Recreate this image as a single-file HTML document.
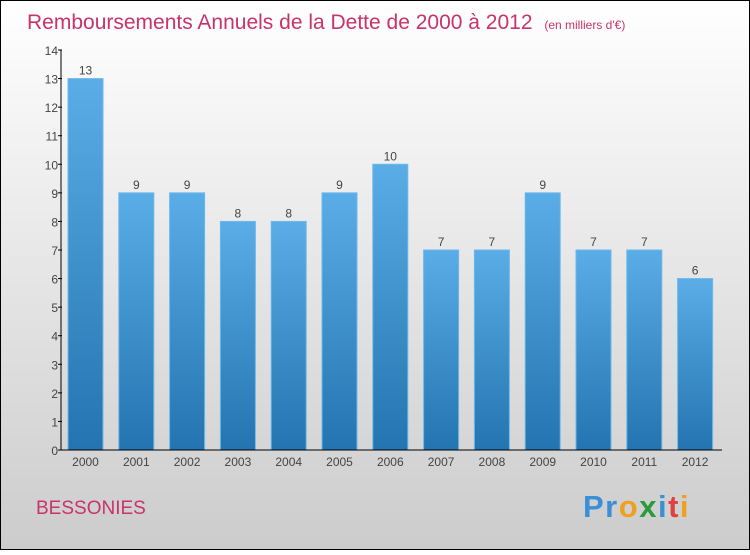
<!DOCTYPE html>
<html><head><meta charset="utf-8"><style>
body{margin:0;width:750px;height:550px;overflow:hidden;font-family:"Liberation Sans",sans-serif}
</style></head><body>
<svg id="c" width="750" height="550" xmlns="http://www.w3.org/2000/svg">
<defs>
<linearGradient id="bg" x1="0" y1="0" x2="0" y2="1"><stop offset="0" stop-color="#ffffff"/><stop offset="1" stop-color="#cccccc"/></linearGradient>
<linearGradient id="bar" x1="0" y1="0" x2="0" y2="1"><stop offset="0" stop-color="#5aade6"/><stop offset="1" stop-color="#2374b0"/></linearGradient>
</defs>
<rect x="0.5" y="0.5" width="749" height="549" fill="url(#bg)" stroke="#000"/>
<text x="27" y="29" font-size="21" fill="#c8336a">Remboursements Annuels de la Dette de 2000 à 2012 <tspan font-size="12" dx="6">(en milliers d'€)</tspan></text>
<text x="36" y="514" font-size="19" fill="#c8336a">BESSONIES</text>
<text x="583" y="517" font-size="31" font-weight="bold" letter-spacing="1.5"><tspan fill="#3a8fd6">Pr</tspan><tspan fill="#f0a020">o</tspan><tspan fill="#2a9a3a">x</tspan><tspan fill="#3a8fd6">i</tspan><tspan fill="#e04040">t</tspan><tspan fill="#f0a020">i</tspan></text>
<g id="plot"></g>
</svg>
<script>
const years=["2000","2001","2002","2003","2004","2005","2006","2007","2008","2009","2010","2011","2012"];
const values=[13,9,9,8,8,9,10,7,7,9,7,7,6];
const yTicks=[0,1,2,3,4,5,6,7,8,9,10,11,12,13,14];
const NS="http://www.w3.org/2000/svg";
const g=document.getElementById('plot');
const y0=450,yTop=50,yMax=14;
const y=v=>y0-(y0-yTop)*v/yMax;
const x=i=>85.5+i*50.8;
function mk(t,a){const e=document.createElementNS(NS,t);for(const k in a)e.setAttribute(k,a[k]);g.appendChild(e);return e;}
values.forEach((v,i)=>{
 const r=mk('rect',{x:x(i)-17.5,y:y(v),width:35,height:y0-y(v),fill:'url(#bar)',stroke:'#6cb8ec','stroke-width':1});
 
 
 const t=mk('text',{x:x(i),y:y(v)-4,'font-size':12,fill:'#444','text-anchor':'middle'});t.textContent=v;
 
 
 const l=mk('text',{x:x(i),y:466,'font-size':12,fill:'#444','text-anchor':'middle'});l.textContent=years[i];
 
 
});
yTicks.forEach(v=>{
 const tk=mk('line',{x1:58,x2:62,y1:y(v),y2:y(v),stroke:'#000'});
 
 
 const t=mk('text',{x:58,y:y(v)+5,'font-size':12,fill:'#444','text-anchor':'end'});t.textContent=v;
 
 
});
const ax=mk('line',{x1:61,x2:61,y1:50,y2:450,stroke:'#000'});


const bx=mk('line',{x1:61,x2:722,y1:450,y2:450,stroke:'#000'});


</script>
</body></html>
